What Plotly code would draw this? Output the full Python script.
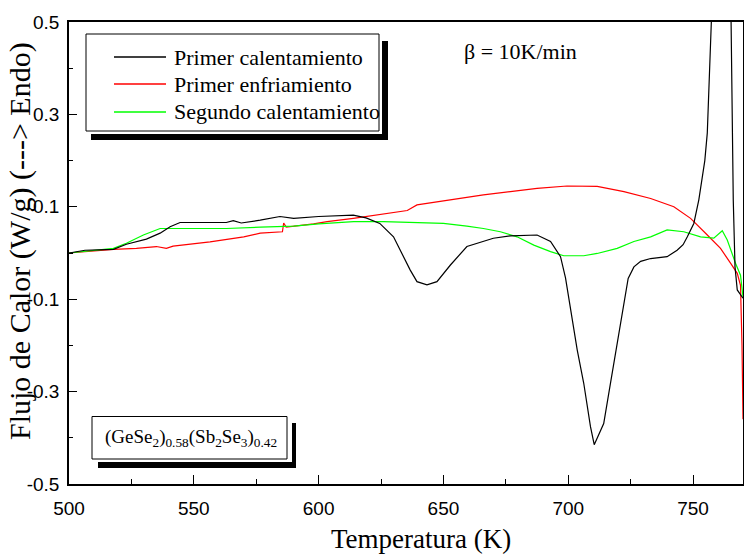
import plotly.graph_objects as go

# ---------------- data ----------------
T_black = [500, 506.4, 517.8, 523, 531, 536.5, 540.5, 544.5, 563, 565.8, 569, 576.6,
           584.5, 590, 600, 613.9, 619, 624.5, 630, 632.7, 636.7, 639.4, 643.4, 647.4,
           652.8, 659.4, 670, 676.8, 687.5, 692.9, 696.9, 698.9, 701.5, 703.6, 706.2,
           708.9, 710.4, 714.2, 716.9, 719.6, 722.3, 724, 726.3, 729, 733, 739.6, 743.6,
           746, 747.7, 750.3, 752.3, 753.7, 754.7, 755.7, 756.3, 757.3, 759, 761, 763,
           765, 765.7, 766.1, 766.8, 767.7, 770]
y_black = [0.0, 0.006, 0.008, 0.019, 0.030, 0.043, 0.057, 0.066, 0.066, 0.070, 0.065, 0.071,
           0.079, 0.075, 0.079, 0.082, 0.076, 0.064, 0.035, 0.006, -0.037, -0.062, -0.069, -0.062,
           -0.026, 0.014, 0.032, 0.037, 0.039, 0.025, -0.008, -0.054, -0.138, -0.21, -0.282,
           -0.376, -0.415, -0.369, -0.282, -0.195, -0.10, -0.055, -0.03, -0.018, -0.012, -0.008, 0.006,
           0.018, 0.035, 0.064, 0.115, 0.165, 0.2, 0.26, 0.367, 0.5, 0.75, 0.9, 0.9,
           0.6, 0.26, 0.115, -0.03, -0.08, -0.098]

T_red = [500, 517.8, 527, 535, 539, 541.7, 556.5, 570, 576.6, 585.5, 586, 587, 598, 603.4,
         613.9, 624.5, 635.5, 639.4, 652.8, 666, 676.8, 687.5, 699.5, 706, 711.6, 722.3,
         733, 742.3, 749, 755.7, 761, 765, 767.7, 769, 769.6, 770]
y_red = [0.0, 0.008, 0.010, 0.014, 0.010, 0.015, 0.024, 0.035, 0.043, 0.046, 0.065, 0.056,
         0.063, 0.068, 0.075, 0.084, 0.092, 0.104, 0.115, 0.126, 0.133, 0.140, 0.145, 0.144,
         0.144, 0.133, 0.118, 0.100, 0.075, 0.039, 0.010, -0.022, -0.044, -0.07, -0.20, -0.36]

T_green = [500, 517.8, 523, 529.8, 536.5, 544.5, 563, 576.6, 584.5, 590, 600, 614, 626,
           639.4, 650, 659.4, 666, 672.8, 679.5, 686.2, 692.9, 698.2, 706.2, 711.6, 719.6,
           726.3, 733, 739.6, 746.3, 753, 758.3, 761.7, 763.7, 767, 769, 770]
y_green = [0.0, 0.010, 0.021, 0.039, 0.053, 0.053, 0.053, 0.056, 0.058, 0.058, 0.063, 0.068,
           0.068, 0.066, 0.064, 0.058, 0.053, 0.046, 0.035, 0.017, 0.003, -0.006, -0.006,
           -0.001, 0.010, 0.025, 0.035, 0.050, 0.046, 0.035, 0.032, 0.048, 0.028, -0.022,
           -0.048, -0.095]

series_names = ["Primer calentamiento", "Primer enfriamiento", "Segundo calentamiento"]
series_colors = ["#000000", "#ff0000", "#00ff00"]

x_tickvals = [500, 550, 600, 650, 700, 750]
x_ticktext = ["500", "550", "600", "650", "700", "750"]
y_tickvals = [-0.5, -0.3, -0.1, 0.1, 0.3, 0.5]
y_ticktext = ["-0.5", "-0.3", "-0.1", "0.1", "0.3", "0.5"]

# ---------------- figure ----------------
W, H = 744, 554
ML, MR, MT, MB = 69, 1, 22, 70
PW, PH = W - ML - MR, H - MT - MB


def px(x):
    return (x - ML) / PW


def py(y):
    return (H - MB - y) / PH


fig = go.Figure()
for T, y, name, col in [(T_red, y_red, series_names[1], series_colors[1]),
                        (T_green, y_green, series_names[2], series_colors[2]),
                        (T_black, y_black, series_names[0], series_colors[0])]:
    fig.add_trace(go.Scatter(x=T, y=y, mode="lines", name=name,
                             line=dict(color=col, width=1.2), showlegend=False))

serif = "Liberation Serif, Times New Roman, serif"
sans = "Liberation Sans, Arial, sans-serif"

shapes = []
annotations = []

# legend box with shadow
shapes += [
    dict(type="rect", xref="paper", yref="paper", x0=px(91), x1=px(388), y0=py(140), y1=py(134),
         fillcolor="black", line=dict(width=0), layer="above"),
    dict(type="rect", xref="paper", yref="paper", x0=px(382), x1=px(388), y0=py(134), y1=py(41),
         fillcolor="black", line=dict(width=0), layer="above"),
    dict(type="rect", xref="paper", yref="paper", x0=px(86), x1=px(379), y0=py(131), y1=py(34),
         fillcolor="white", line=dict(color="black", width=1), layer="above"),
]
for i, (name, col) in enumerate(zip(series_names, series_colors)):
    yy = [57, 84, 112][i]
    shapes.append(dict(type="line", xref="paper", yref="paper", x0=px(114), x1=px(166),
                       y0=py(yy), y1=py(yy), line=dict(color=col, width=1.3), layer="above"))
    annotations.append(dict(xref="paper", yref="paper", x=px(172), y=py(yy), text=name,
                            showarrow=False, xanchor="left", yanchor="middle",
                            font=dict(family=serif, size=22, color="black")))

# composition box with shadow
shapes += [
    dict(type="rect", xref="paper", yref="paper", x0=px(98), x1=px(296), y0=py(468), y1=py(462),
         fillcolor="black", line=dict(width=0), layer="above"),
    dict(type="rect", xref="paper", yref="paper", x0=px(292), x1=px(296), y0=py(462), y1=py(423),
         fillcolor="black", line=dict(width=0), layer="above"),
    dict(type="rect", xref="paper", yref="paper", x0=px(92), x1=px(287), y0=py(459), y1=py(416.5),
         fillcolor="white", line=dict(color="black", width=1), layer="above"),
]
annotations.append(dict(xref="paper", yref="paper", x=px(191), y=py(438),
                        text="(GeSe<sub>2</sub>)<sub>0.58</sub>(Sb<sub>2</sub>Se<sub>3</sub>)<sub>0.42</sub>",
                        showarrow=False, xanchor="center", yanchor="middle",
                        font=dict(family=serif, size=19, color="black")))

annotations.append(dict(xref="paper", yref="paper", x=px(462), y=py(51), text="β = 10K/min",
                        showarrow=False, xanchor="left", yanchor="middle",
                        font=dict(family=serif, size=22, color="black")))

# axis titles
annotations.append(dict(xref="paper", yref="paper", x=px(421), y=py(539), text="Temperatura (K)",
                        showarrow=False, xanchor="center", yanchor="middle",
                        font=dict(family=serif, size=27, color="black")))
annotations.append(dict(xref="paper", yref="paper", x=px(20), y=py(241), text="Flujo de Calor (W/g) (---> Endo)",
                        showarrow=False, xanchor="center", yanchor="middle", textangle=-90,
                        font=dict(family=serif, size=30, color="black")))

fig.update_layout(
    width=W, height=H,
    margin=dict(l=ML, r=MR, t=MT, b=MB, pad=0, autoexpand=False),
    paper_bgcolor="white", plot_bgcolor="white",
    shapes=shapes, annotations=annotations,
    showlegend=False,
    xaxis=dict(range=[500, 770], showgrid=False, zeroline=False, automargin=False,
               showline=True, linecolor="black", linewidth=1.5, mirror=True,
               tickmode="array", tickvals=x_tickvals, ticktext=x_ticktext,
               ticks="inside", ticklen=9, tickwidth=1.2, tickcolor="black",
               minor=dict(tickmode="linear", tick0=525, dtick=50, ticks="inside",
                          ticklen=5, tickwidth=1.2, tickcolor="black", showgrid=False),
               tickfont=dict(family=sans, size=19, color="black"),
               ticklabelstandoff=6),
    yaxis=dict(range=[-0.5, 0.5], showgrid=False, zeroline=False, automargin=False,
               showline=True, linecolor="black", linewidth=1.5, mirror=True,
               tickmode="array", tickvals=y_tickvals, ticktext=y_ticktext,
               ticks="inside", ticklen=8, tickwidth=1.2, tickcolor="black",
               minor=dict(tickmode="linear", tick0=-0.4, dtick=0.2, ticks="inside",
                          ticklen=4, tickwidth=1.2, tickcolor="black", showgrid=False),
               tickfont=dict(family=sans, size=19, color="black"),
               ticklabelstandoff=4),
)

fig.write_html("out.html", config={"displayModeBar": False},
               post_script="document.body.style.margin='0';document.body.style.padding='0';"
                           "document.documentElement.style.overflow='hidden';")
